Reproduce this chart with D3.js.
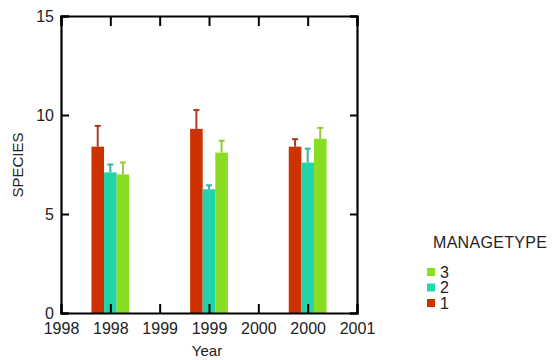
<!DOCTYPE html>
<html>
<head>
<meta charset="utf-8">
<script src="https://cdn.jsdelivr.net/npm/d3@7"></script>
<style>
  body { margin: 0; background: #fff; }
  text { font-family: "Liberation Sans", Arial, sans-serif; fill: #222; }
</style>
</head>
<body>
<div id="chart"></div>
<script>
// values
var years = [1998, 1999, 2000];
var manageTypes = ["1", "2", "3"];
var meanType1 = [8.4, 9.3, 8.4];
var meanType2 = [7.1, 6.25, 7.6];
var meanType3 = [7.0, 8.1, 8.8];
var errType1 = [1.05, 0.95, 0.38];
var errType2 = [0.4, 0.2, 0.7];
var errType3 = [0.6, 0.6, 0.55];
var xTicks = [1998, 1998.5, 1999, 1999.5, 2000, 2000.5, 2001];
var yTicks = [0, 5, 10, 15];

var barColor = { "1": "#cc3300", "2": "#22d4aa", "3": "#88dd22" },
    errColor = { "1": "#a63a1e", "2": "#35b5a6", "3": "#9cc734" };

var width = 556, height = 360,
    plot = { left: 61, right: 357, top: 16, bottom: 313 };

var means = { "1": meanType1, "2": meanType2, "3": meanType3 },
    errs = { "1": errType1, "2": errType2, "3": errType3 };

var rows = [];
years.forEach(function (yr, i) {
    manageTypes.forEach(function (t) {
        rows.push({ year: yr, type: t, mean: means[t][i], err: errs[t][i] });
    });
});

var svg = d3.select("#chart").append("svg")
    .attr("width", width)
    .attr("height", height);

var x = d3.scaleLinear().domain([1998, 2001]).range([plot.left, plot.right]),
    y = d3.scaleLinear().domain([0, 15]).range([plot.bottom, plot.top]);

// bars sit in the middle of each year
var barW = 12.6;
var inGroup = d3.scaleBand().domain(manageTypes).range([-1.5 * barW, 1.5 * barW]);
var centre = function (d) { return x(d.year + 0.5) + inGroup(d.type) + inGroup.bandwidth() / 2; };

var bars = svg.append("g");
bars.selectAll("rect")
    .data(rows)
    .enter()
    .append("rect")
    .attr("x", function (d) { return x(d.year + 0.5) + inGroup(d.type); })
    .attr("y", function (d) { return y(d.mean); })
    .attr("width", inGroup.bandwidth())
    .attr("height", function (d) { return y(0) - y(d.mean); })
    .attr("fill", function (d) { return barColor[d.type]; });

// error bars (upper only)
var eb = svg.append("g");
eb.selectAll("line.stem")
    .data(rows)
    .enter()
    .append("line")
    .attr("class", "stem")
    .attr("x1", centre)
    .attr("x2", centre)
    .attr("y1", function (d) { return y(d.mean); })
    .attr("y2", function (d) { return y(d.mean + d.err); })
    .attr("stroke", function (d) { return errColor[d.type]; })
    .attr("stroke-width", 2);
eb.selectAll("line.cap")
    .data(rows)
    .enter()
    .append("line")
    .attr("class", "cap")
    .attr("x1", function (d) { return centre(d) - 3; })
    .attr("x2", function (d) { return centre(d) + 3; })
    .attr("y1", function (d) { return y(d.mean + d.err); })
    .attr("y2", function (d) { return y(d.mean + d.err); })
    .attr("stroke", function (d) { return errColor[d.type]; })
    .attr("stroke-width", 2);

// axes, ticks pointing inward
var fmtYear = function (v) { return String(Math.floor(v)); };

var bottomAxis = svg.append("g")
    .attr("transform", "translate(0," + plot.bottom + ")")
    .call(d3.axisBottom(x).tickValues(xTicks).tickFormat(fmtYear).tickSize(-9).tickPadding(10));
var topAxis = svg.append("g")
    .attr("transform", "translate(0," + plot.top + ")")
    .call(d3.axisTop(x).tickValues(xTicks).tickFormat("").tickSize(-10));
var leftAxis = svg.append("g")
    .attr("transform", "translate(" + plot.left + ",0)")
    .call(d3.axisLeft(y).tickValues(yTicks).tickFormat(d3.format("d")).tickSize(-8).tickPadding(7));
var rightAxis = svg.append("g")
    .attr("transform", "translate(" + plot.right + ",0)")
    .call(d3.axisRight(y).tickValues(yTicks).tickFormat("").tickSize(-7));

[bottomAxis, topAxis, leftAxis, rightAxis].forEach(function (g) {
    g.select(".domain").attr("stroke", "#000").attr("stroke-width", 2.2);
    g.selectAll(".tick line").attr("stroke", "#000").attr("stroke-width", 2);
    g.selectAll("text").attr("font-size", 16).attr("fill", "#333")
        .attr("font-family", "Liberation Sans, Arial, sans-serif");
});
bottomAxis.selectAll("text").attr("dy", "0.71em");
bottomAxis.raise();

// axis titles
svg.append("text")
    .attr("x", 207)
    .attr("y", 356)
    .attr("text-anchor", "middle")
    .attr("font-size", 15)
    .attr("fill", "#333")
    .text("Year");
svg.append("text")
    .attr("transform", "translate(23,165) rotate(-90)")
    .attr("text-anchor", "middle")
    .attr("font-size", 15)
    .attr("fill", "#333")
    .text("SPECIES");

// legend
var legend = svg.append("g");
legend.append("text")
    .attr("x", 433)
    .attr("y", 248)
    .attr("font-size", 16)
    .attr("letter-spacing", 0.3)
    .attr("fill", "#333")
    .text("MANAGETYPE");
var legendItems = manageTypes.slice().reverse();
var item = legend.selectAll("g.item")
    .data(legendItems)
    .enter()
    .append("g")
    .attr("class", "item")
    .attr("transform", function (d, i) { return "translate(427," + (272 + i * 15.5) + ")"; });
item.append("rect")
    .attr("x", 0)
    .attr("y", -4)
    .attr("width", 8)
    .attr("height", 8)
    .attr("fill", function (d) { return barColor[d]; });
item.append("text")
    .attr("x", 13)
    .attr("y", 0)
    .attr("dy", "0.36em")
    .attr("font-size", 16)
    .attr("fill", "#333")
    .text(function (d) { return d; });
</script>
</body>
</html>
